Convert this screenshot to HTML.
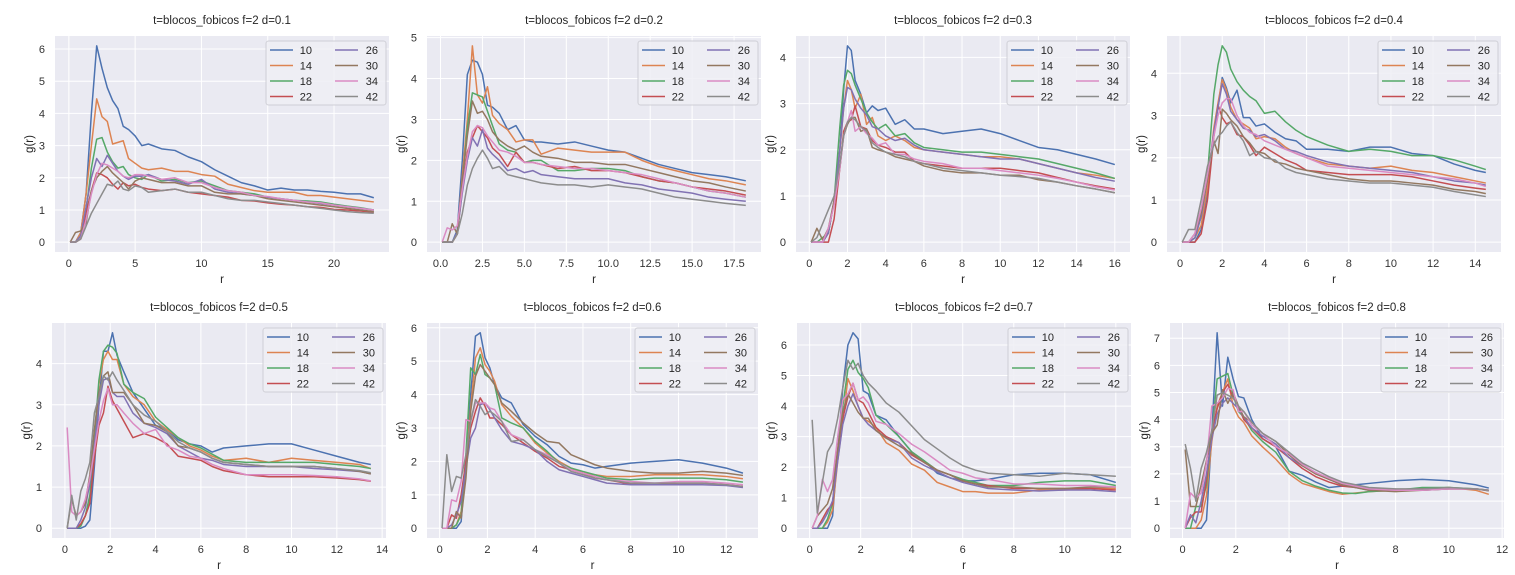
<!DOCTYPE html>
<html><head><meta charset="utf-8"><style>
body{margin:0;background:#fff;}
svg{display:block;font-family:"Liberation Sans","DejaVu Sans",sans-serif;}
</style></head><body>
<svg id="fig" width="1515" height="575" viewBox="0 0 1515 575"></svg>
<script>
// ---------- data ----------
const seriesLabels = ["10","14","18","22","26","30","34","42"];
const plotTitles = ["t=blocos_fobicos f=2 d=0.1","t=blocos_fobicos f=2 d=0.2","t=blocos_fobicos f=2 d=0.3","t=blocos_fobicos f=2 d=0.4","t=blocos_fobicos f=2 d=0.5","t=blocos_fobicos f=2 d=0.6","t=blocos_fobicos f=2 d=0.7","t=blocos_fobicos f=2 d=0.8"];

const p1_r = [0.1,0.5,0.9,1.3,1.7,2.1,2.5,2.9,3.3,3.7,4.1,4.5,5,5.5,6,7,8,9,10,11,12,13,14,15,16,17,18,19,20,21,22,23];
const p1_10 = [0,0,0.3,1.5,4,6.1,5.4,4.8,4.4,4.15,3.6,3.5,3.3,3.0,3.05,2.9,2.85,2.65,2.5,2.25,2.05,1.85,1.75,1.62,1.68,1.62,1.62,1.58,1.55,1.5,1.5,1.38];
const p1_14 = [0,0,0.3,1.5,3,4.45,3.9,3.75,3.05,3.1,3.15,2.6,2.45,2.3,2.25,2.3,2.2,2.2,2.1,2.05,1.8,1.7,1.6,1.55,1.55,1.55,1.45,1.45,1.4,1.35,1.3,1.25];
const p1_18 = [0,0,0.2,1.0,2.3,3.2,3.25,2.8,2.5,2.3,2.35,2.1,2.0,1.95,2.1,1.9,1.95,1.85,1.9,1.75,1.6,1.55,1.5,1.4,1.35,1.3,1.28,1.25,1.18,1.12,1.07,1.0];
const p1_22 = [0,0,0.1,0.9,1.6,2.15,2.1,2.0,1.8,1.65,1.85,1.75,1.8,1.7,1.65,1.6,1.65,1.55,1.5,1.45,1.4,1.3,1.28,1.22,1.18,1.15,1.1,1.08,1.02,1.0,0.97,0.93];
const p1_26 = [0,0,0.2,1.1,2.0,2.6,2.35,2.7,2.45,2.2,2.05,1.95,2.05,2.05,2.1,1.95,1.9,1.8,1.95,1.65,1.55,1.5,1.45,1.4,1.35,1.3,1.25,1.2,1.15,1.1,1.05,1.0];
const p1_30 = [0,0.3,0.35,0.6,1.6,2.0,2.2,2.35,2.15,2.0,1.85,1.65,1.9,2.0,1.95,1.85,1.85,1.75,1.75,1.55,1.5,1.5,1.45,1.35,1.3,1.25,1.2,1.15,1.1,1.05,1.0,0.95];
const p1_34 = [0,0,0.1,0.7,1.5,2.1,2.45,2.4,2.3,2.2,2.05,2.0,2.1,2.1,2.05,1.95,2.0,1.85,1.85,1.7,1.6,1.55,1.45,1.42,1.35,1.3,1.25,1.22,1.15,1.1,1.05,1.0];
const p1_42 = [0,0,0.1,0.5,0.9,1.2,1.5,1.8,1.75,1.9,1.65,1.6,1.75,1.7,1.55,1.6,1.65,1.55,1.55,1.45,1.35,1.3,1.3,1.25,1.2,1.15,1.1,1.05,1.0,0.95,0.92,0.9];

const p2_r = [0.1,0.4,0.7,1.0,1.3,1.6,1.9,2.2,2.5,2.8,3.1,3.5,4,4.5,5,5.5,6,7,8,9,10,11,12,13,14,15,16,17,18.2];
const p2_10 = [0,0,0,0.3,2,4.1,4.45,4.4,4.1,3.35,3.3,3.15,2.75,2.85,2.5,2.45,2.45,2.4,2.45,2.35,2.25,2.2,2.05,1.9,1.8,1.7,1.65,1.6,1.5];
const p2_14 = [0,0,0,0.2,1.6,3,4.8,3.6,3.4,3.8,3.1,2.9,2.75,2.45,2.5,2.5,2.15,2.3,2.25,2.2,2.2,2.2,2.0,1.85,1.75,1.65,1.55,1.5,1.4];
const p2_18 = [0,0,0,0.2,1.4,2.8,3.65,3.6,3.55,3.2,2.85,2.4,2.25,2.2,1.95,2.0,2.0,1.75,1.75,1.8,1.8,1.75,1.6,1.5,1.45,1.35,1.25,1.2,1.1];
const p2_22 = [0,0,0,0.2,1.3,2.2,2.55,2.85,2.7,2.55,2.3,2.15,1.85,2.2,1.95,1.95,1.9,1.8,1.85,1.75,1.75,1.7,1.6,1.5,1.45,1.35,1.3,1.25,1.15];
const p2_26 = [0,0,0,0.25,1.2,2.0,2.55,2.35,2.75,2.3,2.15,2.0,1.75,1.8,1.7,1.75,1.65,1.6,1.55,1.55,1.55,1.45,1.4,1.3,1.25,1.2,1.1,1.05,1.0];
const p2_30 = [0,0,0.45,0.2,1.5,2.6,3.45,3.15,3.2,3.0,2.7,2.5,2.35,2.25,2.35,2.2,2.1,2.05,1.95,1.95,1.9,1.9,1.8,1.7,1.6,1.5,1.45,1.35,1.25];
const p2_34 = [0,0.35,0.3,0.4,1.3,2.1,2.7,2.85,2.8,2.6,2.45,2.25,2.2,2.1,1.95,1.95,1.9,1.85,1.8,1.8,1.75,1.7,1.65,1.55,1.45,1.35,1.25,1.2,1.1];
const p2_42 = [0,0,0,0.2,0.7,1.4,1.8,2.05,2.25,2.05,1.8,1.85,1.65,1.6,1.55,1.5,1.45,1.4,1.4,1.35,1.4,1.35,1.3,1.2,1.1,1.05,1.0,0.95,0.9];

const p3_r = [0.1,0.4,0.7,1.0,1.3,1.6,1.8,2.0,2.2,2.4,2.7,3.0,3.3,3.6,4,4.5,5,5.5,6,7,8,9,10,11,12,13,14,15,16];
const p3_10 = [0,0,0,0.2,0.9,2.0,3.3,4.25,4.15,3.5,3.2,2.8,2.95,2.85,2.9,2.55,2.65,2.45,2.45,2.35,2.4,2.45,2.35,2.2,2.05,2.0,1.9,1.8,1.68];
const p3_14 = [0,0,0,0.2,0.9,2.0,2.9,3.5,3.3,2.9,3.2,2.55,2.7,2.3,2.2,2.3,2.2,2.05,2.0,1.95,1.9,1.85,1.85,1.8,1.7,1.6,1.5,1.45,1.38];
const p3_18 = [0,0,0.1,0.2,0.9,2.5,3.4,3.72,3.65,3.4,3.1,2.8,2.6,2.45,2.55,2.3,2.35,2.15,2.05,2.0,1.95,1.95,1.9,1.85,1.8,1.7,1.6,1.5,1.38];
const p3_22 = [0,0,0,0,0.5,1.6,2.4,2.6,2.65,2.95,2.5,2.45,2.2,2.1,2.05,1.95,1.95,1.75,1.7,1.65,1.6,1.6,1.6,1.55,1.5,1.4,1.3,1.22,1.15];
const p3_26 = [0,0,0,0.2,0.9,2.0,2.9,3.35,3.3,3.1,2.9,2.75,2.5,2.45,2.3,2.2,2.25,2.1,2.0,1.95,1.9,1.85,1.8,1.8,1.7,1.6,1.5,1.4,1.32];
const p3_30 = [0,0.3,0.05,0.3,0.9,1.6,2.3,2.55,2.7,2.7,2.4,2.45,2.05,2.0,1.95,1.85,1.8,1.75,1.65,1.55,1.5,1.5,1.45,1.45,1.35,1.3,1.22,1.15,1.07];
const p3_34 = [0,0,0,0.3,0.8,1.6,2.3,2.6,2.85,2.4,2.5,2.35,2.25,2.1,2.15,1.9,1.9,1.8,1.75,1.7,1.6,1.6,1.55,1.5,1.45,1.38,1.3,1.2,1.13];
const p3_42 = [0,0.1,0.4,0.7,1.0,1.7,2.3,2.6,2.7,2.65,2.5,2.4,2.15,2.05,1.95,1.9,1.85,1.75,1.7,1.6,1.55,1.5,1.45,1.42,1.38,1.3,1.22,1.15,1.07];

const p4_r = [0.1,0.4,0.7,1.0,1.3,1.6,1.8,2.0,2.2,2.4,2.7,3.0,3.3,3.6,4,4.5,5,5.5,6,7,8,9,10,11,12,13,14,14.5];
const p4_10 = [0,0,0,0.3,1.2,2.6,3.2,3.9,3.65,3.3,3.6,2.95,2.95,2.75,2.8,2.6,2.45,2.4,2.2,2.2,2.15,2.25,2.25,2.1,2.05,1.85,1.7,1.65];
const p4_14 = [0,0,0.1,0.4,1.3,2.7,3.3,3.85,3.6,3.2,2.9,2.8,2.7,2.45,2.5,2.45,2.25,2.1,2.0,1.85,1.8,1.75,1.8,1.7,1.65,1.55,1.45,1.4];
const p4_18 = [0,0,0.1,0.6,1.6,3.5,4.2,4.65,4.5,4.1,3.8,3.6,3.45,3.35,3.05,3.1,2.85,2.65,2.5,2.3,2.15,2.2,2.15,2.05,2.05,1.95,1.8,1.72];
const p4_22 = [0,0,0,0.2,1.0,2.5,3.25,2.95,2.8,2.85,2.55,2.5,2.3,2.05,2.25,2.1,1.95,1.85,1.7,1.65,1.6,1.6,1.6,1.55,1.45,1.35,1.28,1.25];
const p4_26 = [0,0,0.1,0.6,1.5,2.6,3.2,3.75,3.5,3.1,2.9,2.7,2.65,2.5,2.55,2.4,2.2,2.15,2.05,1.9,1.8,1.75,1.7,1.65,1.55,1.45,1.4,1.35];
const p4_30 = [0,0,0.2,0.7,1.5,2.4,2.1,3.15,3.05,2.9,2.75,2.5,2.35,2.15,2.1,1.9,1.85,1.75,1.7,1.6,1.5,1.45,1.45,1.4,1.35,1.25,1.2,1.15];
const p4_34 = [0,0,0.2,0.8,1.6,2.5,3.0,3.3,3.4,3.4,3.0,2.75,2.6,2.55,2.4,2.3,2.2,2.1,2.0,1.8,1.75,1.7,1.65,1.6,1.55,1.5,1.4,1.32];
const p4_42 = [0,0.3,0.3,1.0,1.8,2.3,2.5,2.6,2.75,2.85,2.6,2.4,2.05,2.15,2.0,1.95,1.75,1.65,1.6,1.5,1.45,1.4,1.4,1.35,1.3,1.2,1.12,1.08];

const p5_r = [0.1,0.3,0.5,0.7,0.9,1.1,1.3,1.5,1.7,1.9,2.1,2.3,2.6,3.0,3.5,4,4.5,5,5.5,6,6.5,7,8,9,10,11,12,13,13.5];
const p5_10 = [0,0,0,0,0.05,0.2,1.5,3.0,4.3,4.3,4.75,4.2,3.8,3.3,2.9,2.5,2.4,2.15,2.05,2.0,1.85,1.95,2.0,2.05,2.05,1.9,1.75,1.6,1.55];
const p5_14 = [0,0,0,0.1,0.3,0.7,2.0,3.5,4.1,4.3,4.1,4.1,3.5,3.2,3.0,2.6,2.4,2.2,2.0,1.9,1.75,1.65,1.7,1.6,1.7,1.65,1.6,1.55,1.45];
const p5_18 = [0,0,0,0.05,0.3,0.8,2.2,3.6,4.3,4.45,4.4,4.25,3.5,3.3,3.15,2.7,2.45,2.2,2.05,1.95,1.8,1.65,1.6,1.6,1.6,1.6,1.55,1.5,1.45];
const p5_22 = [0,0,0,0.1,0.3,0.6,1.7,2.5,2.8,3.45,3.1,2.9,2.6,2.2,2.3,2.2,2.05,1.75,1.7,1.65,1.5,1.4,1.3,1.25,1.25,1.25,1.22,1.18,1.14];
const p5_26 = [0,0,0,0.2,0.5,1.1,2.0,3.0,3.6,3.65,3.3,3.2,3.2,2.8,2.55,2.45,2.3,2.0,1.85,1.7,1.65,1.55,1.5,1.5,1.5,1.45,1.42,1.38,1.32];
const p5_30 = [0,0.7,0.3,0.4,0.6,1.3,2.4,3.3,3.7,3.8,3.3,3.3,3.3,3.0,2.55,2.5,2.35,2.0,1.95,1.85,1.7,1.6,1.55,1.5,1.5,1.5,1.45,1.38,1.32];
const p5_34 = [2.45,0.4,0.3,0.4,0.7,1.2,1.9,2.6,3.1,3.4,3.0,3.0,2.8,2.55,2.3,2.4,2.0,1.9,1.75,1.7,1.55,1.45,1.3,1.3,1.3,1.28,1.25,1.2,1.15];
const p5_42 = [0,0.8,0.2,0.9,1.2,1.6,2.8,3.2,3.7,3.6,3.8,3.6,3.35,3.0,2.75,2.6,2.35,2.1,1.95,1.85,1.7,1.6,1.55,1.5,1.5,1.5,1.45,1.4,1.35];

const p6_r = [0.1,0.3,0.5,0.7,0.9,1.1,1.3,1.5,1.7,1.9,2.1,2.3,2.6,3.0,3.5,4,4.5,5,5.5,6,6.5,7,8,9,10,11,12,12.7];
const p6_10 = [0,0,0,0,0.2,2.0,4.0,5.75,5.85,5.1,4.8,4.3,3.9,3.75,3.1,2.75,2.5,2.15,1.95,1.9,1.8,1.85,1.95,2.0,2.05,1.95,1.8,1.65];
const p6_14 = [0,0,0,0.1,0.5,2.0,3.6,5.1,5.4,4.9,4.7,4.4,3.7,3.35,3.0,2.55,2.25,2.0,1.8,1.65,1.6,1.55,1.55,1.6,1.6,1.6,1.55,1.48];
const p6_18 = [0,0,0,0.1,0.4,2.2,4.8,4.6,5.2,4.6,4.5,4.3,3.3,3.15,3.0,2.6,2.3,1.95,1.8,1.7,1.6,1.5,1.45,1.5,1.5,1.5,1.45,1.38];
const p6_22 = [0,0,0.4,0.3,1.0,2.0,3.0,3.5,3.9,3.65,3.3,3.3,3.1,2.8,2.55,2.3,2.1,1.85,1.75,1.65,1.5,1.45,1.32,1.3,1.35,1.35,1.3,1.25];
const p6_26 = [0,0,0.1,0.4,0.8,1.8,2.7,3.0,3.7,3.75,3.55,3.3,2.95,2.6,2.5,2.35,2.0,1.75,1.65,1.55,1.45,1.35,1.3,1.3,1.3,1.3,1.28,1.22];
const p6_30 = [0,0,0,0.5,0.3,1.5,3.5,4.55,4.9,4.7,4.5,4.3,3.75,3.5,3.15,2.85,2.6,2.55,2.2,2.05,1.9,1.8,1.7,1.65,1.65,1.7,1.65,1.58];
const p6_34 = [0,0,0.85,0.8,1.4,3.25,3.2,3.75,3.75,3.75,3.6,3.55,3.2,2.8,2.65,2.35,2.2,1.95,1.75,1.65,1.55,1.45,1.4,1.35,1.4,1.4,1.35,1.3];
const p6_42 = [0,2.2,1.1,1.55,1.5,2.2,3.2,3.85,3.65,3.4,3.5,3.4,3.2,2.6,2.65,2.35,2.15,1.95,1.7,1.6,1.5,1.45,1.35,1.35,1.35,1.35,1.3,1.25];

const p7_r = [0.1,0.3,0.5,0.7,0.9,1.1,1.3,1.5,1.7,1.9,2.1,2.3,2.6,3.0,3.5,4,4.5,5,5.5,6,6.5,7,8,9,10,11,12];
const p7_10 = [0,0,0,0,0.4,2.5,4.6,6.0,6.4,6.2,4.5,4.4,3.7,3.55,3.0,2.5,2.2,1.8,1.65,1.55,1.55,1.6,1.75,1.8,1.8,1.75,1.5];
const p7_14 = [0,0,0,0.2,0.6,2.2,3.5,4.9,4.5,4.0,3.6,3.5,3.3,2.8,2.55,2.1,1.9,1.5,1.35,1.2,1.2,1.15,1.15,1.25,1.25,1.3,1.3];
const p7_18 = [0,0,0,0.3,0.8,2.5,4.0,5.2,5.5,5.1,4.9,4.6,3.7,3.4,3.0,2.5,2.2,1.9,1.75,1.6,1.5,1.4,1.4,1.5,1.55,1.55,1.4];
const p7_22 = [0,0,0.3,0.6,0.8,2.6,3.6,4.3,4.75,4.2,4.1,3.8,3.3,3.0,2.8,2.4,2.15,1.9,1.75,1.55,1.45,1.4,1.3,1.3,1.3,1.3,1.25];
const p7_26 = [0,0,0.2,0.5,0.9,2.2,3.4,4.0,4.4,4.0,3.6,3.4,3.2,2.95,2.8,2.3,2.05,1.85,1.65,1.5,1.4,1.3,1.25,1.22,1.25,1.25,1.2];
const p7_30 = [0,0.4,0.6,0.8,1.3,2.6,3.8,4.4,4.1,3.8,3.6,3.6,3.2,2.95,2.7,2.45,2.15,1.9,1.75,1.55,1.45,1.35,1.35,1.3,1.3,1.35,1.35];
const p7_34 = [0,0.4,1.6,1.2,1.6,3.0,4.2,4.4,4.75,4.2,4.3,4.1,3.5,3.4,3.1,2.75,2.5,2.2,1.9,1.8,1.65,1.6,1.45,1.45,1.4,1.4,1.35];
const p7_42 = [3.55,0.5,1.5,2.5,2.8,3.6,4.6,5.5,5.2,5.4,5.0,4.75,4.5,4.1,3.8,3.35,2.9,2.6,2.3,2.05,1.9,1.8,1.75,1.7,1.8,1.75,1.7];

const p8_r = [0.1,0.3,0.5,0.7,0.9,1.1,1.3,1.5,1.7,1.9,2.1,2.3,2.6,3.0,3.5,4,4.5,5,5.5,6,6.5,7,8,9,10,11,11.5];
const p8_10 = [0,0,0,0,0.3,3.5,7.2,4.5,6.3,5.5,4.85,4.8,4.0,3.3,3.0,2.1,1.95,1.7,1.5,1.55,1.6,1.65,1.75,1.8,1.75,1.6,1.48];
const p8_14 = [0,0,0,0.3,1.2,3.2,4.5,5.0,5.5,4.5,4.1,3.9,3.4,3.0,2.55,2.0,1.65,1.5,1.35,1.25,1.3,1.35,1.4,1.45,1.5,1.4,1.25];
const p8_18 = [0,0,0.8,0.8,1.6,3.5,5.5,5.6,5.7,4.9,4.3,4.1,3.6,3.2,2.8,2.1,1.75,1.55,1.4,1.3,1.28,1.35,1.4,1.5,1.5,1.45,1.4];
const p8_22 = [0,0.4,0.6,0.6,1.8,3.6,4.4,5.0,5.3,4.8,4.5,4.0,3.7,3.3,3.0,2.6,2.2,1.9,1.7,1.55,1.5,1.45,1.4,1.45,1.45,1.45,1.4];
const p8_26 = [0,0.5,0.2,1.0,2.0,3.3,4.2,4.6,4.8,4.6,4.4,4.1,3.7,3.4,3.1,2.6,2.3,2.05,1.8,1.6,1.5,1.4,1.4,1.4,1.45,1.45,1.38];
const p8_30 = [2.9,0.8,0.8,1.6,2.5,3.5,3.8,5.1,4.6,5.0,4.5,4.1,3.9,3.5,3.2,2.7,2.3,2.0,1.8,1.6,1.5,1.4,1.35,1.4,1.45,1.45,1.38];
const p8_34 = [0,1.3,1.1,1.3,2.4,4.5,4.6,4.8,5.15,5.1,4.3,4.3,3.8,3.5,3.0,2.75,2.35,2.05,1.85,1.65,1.55,1.45,1.4,1.4,1.45,1.45,1.4];
const p8_42 = [3.1,2.2,1.0,2.2,2.8,3.6,4.9,5.0,4.9,4.8,4.5,4.3,3.9,3.5,3.2,2.8,2.4,2.15,1.9,1.7,1.6,1.5,1.45,1.45,1.5,1.45,1.4];

const p1_xticks = [0,5,10,15,20];
const p2_xticks = [0,2.5,5,7.5,10,12.5,15,17.5];
const p3_xticks = [0,2,4,6,8,10,12,14,16];
const p4_xticks = [0,2,4,6,8,10,12,14];
const p5_xticks = [0,2,4,6,8,10,12,14];
const p6_xticks = [0,2,4,6,8,10,12];
const p7_xticks = [0,2,4,6,8,10,12];
const p8_xticks = [0,2,4,6,8,10,12];
const p1_yticks = [0,1,2,3,4,5,6];
const p2_yticks = [0,1,2,3,4,5];
const p3_yticks = [0,1,2,3,4];
const p4_yticks = [0,1,2,3,4];
const p5_yticks = [0,1,2,3,4];
const p6_yticks = [0,1,2,3,4,5,6];
const p7_yticks = [0,1,2,3,4,5,6];
const p8_yticks = [0,1,2,3,4,5,6,7];

// ---------- drawing ----------
const colors = ["#4C72B0","#DD8452","#55A868","#C44E52","#8172B3","#937860","#DA8BC3","#8C8C8C"];
const NS = "http://www.w3.org/2000/svg";
const svg = document.getElementById("fig");
function mk(tag, attrs, parent){
  const e = document.createElementNS(NS, tag);
  for (const k in attrs) e.setAttribute(k, attrs[k]);
  (parent||svg).appendChild(e);
  return e;
}
const plots = [
  {r:p1_r, s:[p1_10,p1_14,p1_18,p1_22,p1_26,p1_30,p1_34,p1_42], xt:p1_xticks, yt:p1_yticks, xfmt:0, L:55, R:389, T:36, B:252},
  {r:p2_r, s:[p2_10,p2_14,p2_18,p2_22,p2_26,p2_30,p2_34,p2_42], xt:p2_xticks, yt:p2_yticks, xfmt:1, L:427, R:761, T:36, B:252},
  {r:p3_r, s:[p3_10,p3_14,p3_18,p3_22,p3_26,p3_30,p3_34,p3_42], xt:p3_xticks, yt:p3_yticks, xfmt:0, L:796, R:1130, T:36, B:252},
  {r:p4_r, s:[p4_10,p4_14,p4_18,p4_22,p4_26,p4_30,p4_34,p4_42], xt:p4_xticks, yt:p4_yticks, xfmt:0, L:1167, R:1501, T:36, B:252},
  {r:p5_r, s:[p5_10,p5_14,p5_18,p5_22,p5_26,p5_30,p5_34,p5_42], xt:p5_xticks, yt:p5_yticks, xfmt:0, L:52, R:386, T:323, B:538},
  {r:p6_r, s:[p6_10,p6_14,p6_18,p6_22,p6_26,p6_30,p6_34,p6_42], xt:p6_xticks, yt:p6_yticks, xfmt:0, L:427, R:758, T:323, B:538},
  {r:p7_r, s:[p7_10,p7_14,p7_18,p7_22,p7_26,p7_30,p7_34,p7_42], xt:p7_xticks, yt:p7_yticks, xfmt:0, L:797, R:1131, T:323, B:538},
  {r:p8_r, s:[p8_10,p8_14,p8_18,p8_22,p8_26,p8_30,p8_34,p8_42], xt:p8_xticks, yt:p8_yticks, xfmt:0, L:1170, R:1504, T:323, B:538}
];

plots.forEach((p, pi) => {
  const g = mk("g", {});
  
  
  const xmin = Math.min(...p.r), xmax = Math.max(...p.r);
  let ymin = Infinity, ymax = -Infinity;
  p.s.forEach(a => a.forEach(v => { if (v<ymin) ymin=v; if (v>ymax) ymax=v; }));
  const xr = xmax - xmin, yr = ymax - ymin;
  const x0 = xmin - 0.05*xr, x1 = xmax + 0.05*xr;
  const y0 = ymin - 0.05*yr, y1 = ymax + 0.05*yr;
  const X = v => p.L + (v - x0)/(x1 - x0)*(p.R - p.L);
  const Y = v => p.B - (v - y0)/(y1 - y0)*(p.B - p.T);

  const bg = mk("rect", {x:p.L, y:p.T, width:p.R-p.L, height:p.B-p.T, fill:"#EAEAF2"}, g);
  
  

  p.xt.forEach(t => {
    if (t < x0 || t > x1) return;
    const gl = mk("line", {x1:X(t), x2:X(t), y1:p.T, y2:p.B, stroke:"#fff", "stroke-width":1}, g);
    
    
    const tl = mk("text", {x:X(t), y:p.B+15, "text-anchor":"middle", "font-size":"11", fill:"#333"}, g);
    tl.textContent = p.xfmt ? t.toFixed(1) : String(t);
    
    
  });
  p.yt.forEach(t => {
    if (t < y0 || t > y1 + 0.02*(y1-y0)) return;
    const gl = mk("line", {x1:p.L, x2:p.R, y1:Y(t), y2:Y(t), stroke:"#fff", "stroke-width":1}, g);
    
    
    const tl = mk("text", {x:p.L-10, y:Y(t)+4, "text-anchor":"end", "font-size":"11", fill:"#333"}, g);
    tl.textContent = String(t);
    
    
  });

  const clipId = "clip" + pi;
  const cp = mk("clipPath", {id:clipId}, g);
  mk("rect", {x:p.L, y:p.T, width:p.R-p.L, height:p.B-p.T}, cp);

  p.s.forEach((arr, si) => {
    const d = arr.map((v, i) => (i ? "L" : "M") + X(p.r[i]).toFixed(2) + "," + Y(v).toFixed(2)).join(" ");
    const ln = mk("path", {d:d, fill:"none", stroke:colors[si], "stroke-width":1.5, "stroke-linejoin":"round", "clip-path":"url(#"+clipId+")"}, g);
    
    
  });

  const title = mk("text", {x:(p.L+p.R)/2, y:p.T-12, "text-anchor":"middle", "font-size":"11.5", fill:"#262626"}, g);
  title.textContent = plotTitles[pi];
  
  

  const xl = mk("text", {x:(p.L+p.R)/2, y:p.B+31, "text-anchor":"middle", "font-size":"11.5", fill:"#262626"}, g);
  xl.textContent = "r";
  
  
  const yc = (p.T+p.B)/2;
  const yl = mk("text", {x:p.L-22, y:yc, "text-anchor":"middle", "font-size":"11.5", fill:"#262626", transform:"rotate(-90 "+(p.L-22)+" "+yc+")"}, g);
  yl.textContent = "g(r)";
  
  

  // legend
  const lg = mk("g", {}, g);
  
  
  const lx = p.R - 123, ly = p.T + 5;
  mk("rect", {x:lx, y:ly, width:120, height:64, rx:2.5, fill:"#EEEEF4", "fill-opacity":0.85, stroke:"#CFCFD6", "stroke-width":1}, lg);
  seriesLabels.forEach((lab, si) => {
    const col = Math.floor(si/4), row = si%4;
    const ex = lx + 4 + col*65, ey = ly + 9 + row*15.5;
    const ent = mk("g", {}, lg);
    
    
    mk("line", {x1:ex, x2:ex+23, y1:ey, y2:ey, stroke:colors[si], "stroke-width":1.5}, ent);
    const t = mk("text", {x:ex+(col?43:42), y:ey+4, "text-anchor":"end", "font-size":"11", fill:"#262626"}, ent);
    t.textContent = lab;
  });
});
</script>
</body></html>
